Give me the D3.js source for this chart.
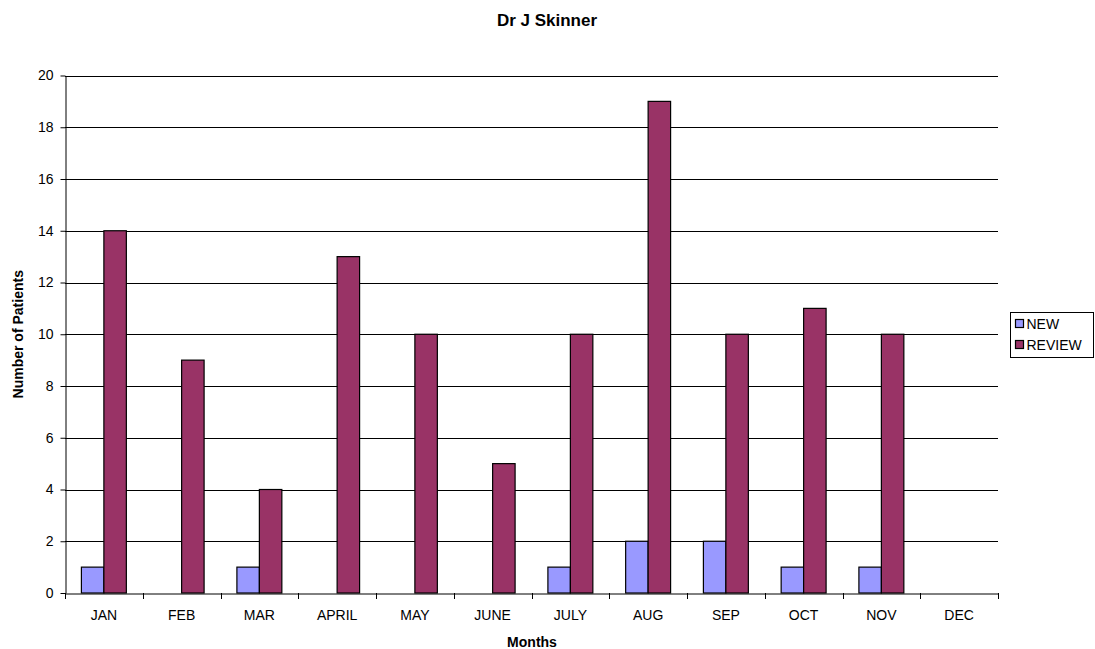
<!DOCTYPE html>
<html>
<head>
<meta charset="utf-8">
<script src="https://cdn.jsdelivr.net/npm/d3@7"></script>
<style>
  body { margin: 0; background: #fff; }
  svg { display: block; font-family: "Liberation Sans", Arial, sans-serif; }
</style>
</head>
<body>
<div id="chart"></div>
<script>
// Chart data
const months = ["JAN", "FEB", "MAR", "APRIL", "MAY", "JUNE", "JULY", "AUG", "SEP", "OCT", "NOV", "DEC"];
const newPatients = [1, 0, 1, 0, 0, 0, 1, 2, 2, 1, 1, 0];
const reviewPatients = [14, 9, 4, 13, 10, 5, 10, 19, 10, 11, 10, 0];
const seriesNames = ["NEW", "REVIEW"];
const seriesColors = ["#9999FF", "#993366"];
const yTicks = [0, 2, 4, 6, 8, 10, 12, 14, 16, 18, 20];

const width = 1095, height = 649;
const plot = { left: 65, right: 998, top: 75.5, bottom: 593 };
const fontFamily = "Liberation Sans, Arial, sans-serif";

const svg = d3.select("#chart").append("svg")
  .attr("width", width)
  .attr("height", height);

const x = d3.scaleBand()
  .domain(months)
  .range([plot.left, plot.right])
  .paddingInner(0)
  .paddingOuter(0);

const xs = d3.scaleBand()
  .domain(seriesNames)
  .range([0, x.bandwidth()])
  .paddingOuter(0.73)
  .paddingInner(0);

const y = d3.scaleLinear()
  .domain([0, 20])
  .range([plot.bottom, plot.top]);

// gridlines
svg.append("g")
  .selectAll("line")
  .data(yTicks.filter(d => d > 0))
  .join("line")
  .attr("x1", plot.left)
  .attr("x2", plot.right)
  .attr("y1", d => Math.round(y(d)) + 0.5)
  .attr("y2", d => Math.round(y(d)) + 0.5)
  .attr("stroke", "#000")
  .attr("stroke-width", 1);

// bars
const table = months.map((m, i) => ({ month: m, values: [newPatients[i], reviewPatients[i]] }));

const groups = svg.append("g")
  .selectAll("g")
  .data(table)
  .join("g")
  .attr("transform", d => `translate(${x(d.month)},0)`);

groups.selectAll("rect")
  .data(d => d.values.map((v, j) => ({ key: seriesNames[j], value: v, color: seriesColors[j] })))
  .join("rect")
  .filter(d => d.value > 0)
  .attr("x", d => xs(d.key))
  .attr("y", d => y(d.value))
  .attr("width", xs.bandwidth())
  .attr("height", d => plot.bottom - y(d.value))
  .attr("fill", d => d.color)
  .attr("stroke", "#000")
  .attr("stroke-width", 1.2);

// y axis
const yAxis = svg.append("g")
  .attr("transform", `translate(${plot.left + 0.5},0)`)
  .call(d3.axisLeft(y).tickValues(yTicks).tickSize(5).tickSizeOuter(0).tickPadding(7));
yAxis.select(".domain").attr("stroke", "#000");
yAxis.selectAll(".tick line").attr("stroke", "#000");
yAxis.selectAll("text").attr("font-size", 14).attr("fill", "#000")
  .attr("font-family", fontFamily);

// x axis
const xAxis = svg.append("g")
  .attr("transform", `translate(0,${plot.bottom + 0.5})`)
  .call(d3.axisBottom(x).tickSize(0).tickPadding(17));
xAxis.select(".domain").attr("stroke", "#000");
xAxis.selectAll("text").attr("font-size", 14).attr("fill", "#000")
  .attr("font-family", fontFamily);

// category separators
svg.append("g")
  .selectAll("line")
  .data(months.map(m => x(m)).concat([plot.right]))
  .join("line")
  .attr("x1", d => Math.round(d) + 0.5)
  .attr("x2", d => Math.round(d) + 0.5)
  .attr("y1", plot.bottom)
  .attr("y2", plot.bottom + 6)
  .attr("stroke", "#000");

// titles
svg.append("text")
  .attr("x", 547)
  .attr("y", 26)
  .attr("text-anchor", "middle")
  .attr("font-size", 17)
  .attr("font-weight", "bold")
  .text("Dr J Skinner");

svg.append("text")
  .attr("x", 532)
  .attr("y", 647)
  .attr("text-anchor", "middle")
  .attr("font-size", 14)
  .attr("font-weight", "bold")
  .text("Months");

svg.append("text")
  .attr("transform", `translate(23,${(plot.top + plot.bottom) / 2}) rotate(-90)`)
  .attr("text-anchor", "middle")
  .attr("font-size", 14)
  .attr("font-weight", "bold")
  .text("Number of Patients");

// legend
const legend = svg.append("g").attr("transform", "translate(1010.5,312.5)");
legend.append("rect")
  .attr("width", 83)
  .attr("height", 45)
  .attr("fill", "#fff")
  .attr("stroke", "#000");

seriesNames.forEach((name, i) => {
  const row = legend.append("g").attr("transform", `translate(5,${7 + i * 21})`);
  row.append("rect")
    .attr("width", 8)
    .attr("height", 8)
    .attr("fill", seriesColors[i])
    .attr("stroke", "#000")
    .attr("stroke-width", 1.2);
  row.append("text")
    .attr("x", 11)
    .attr("y", 9.5)
    .attr("font-size", 14)
    .text(name);
});
</script>
</body>
</html>
